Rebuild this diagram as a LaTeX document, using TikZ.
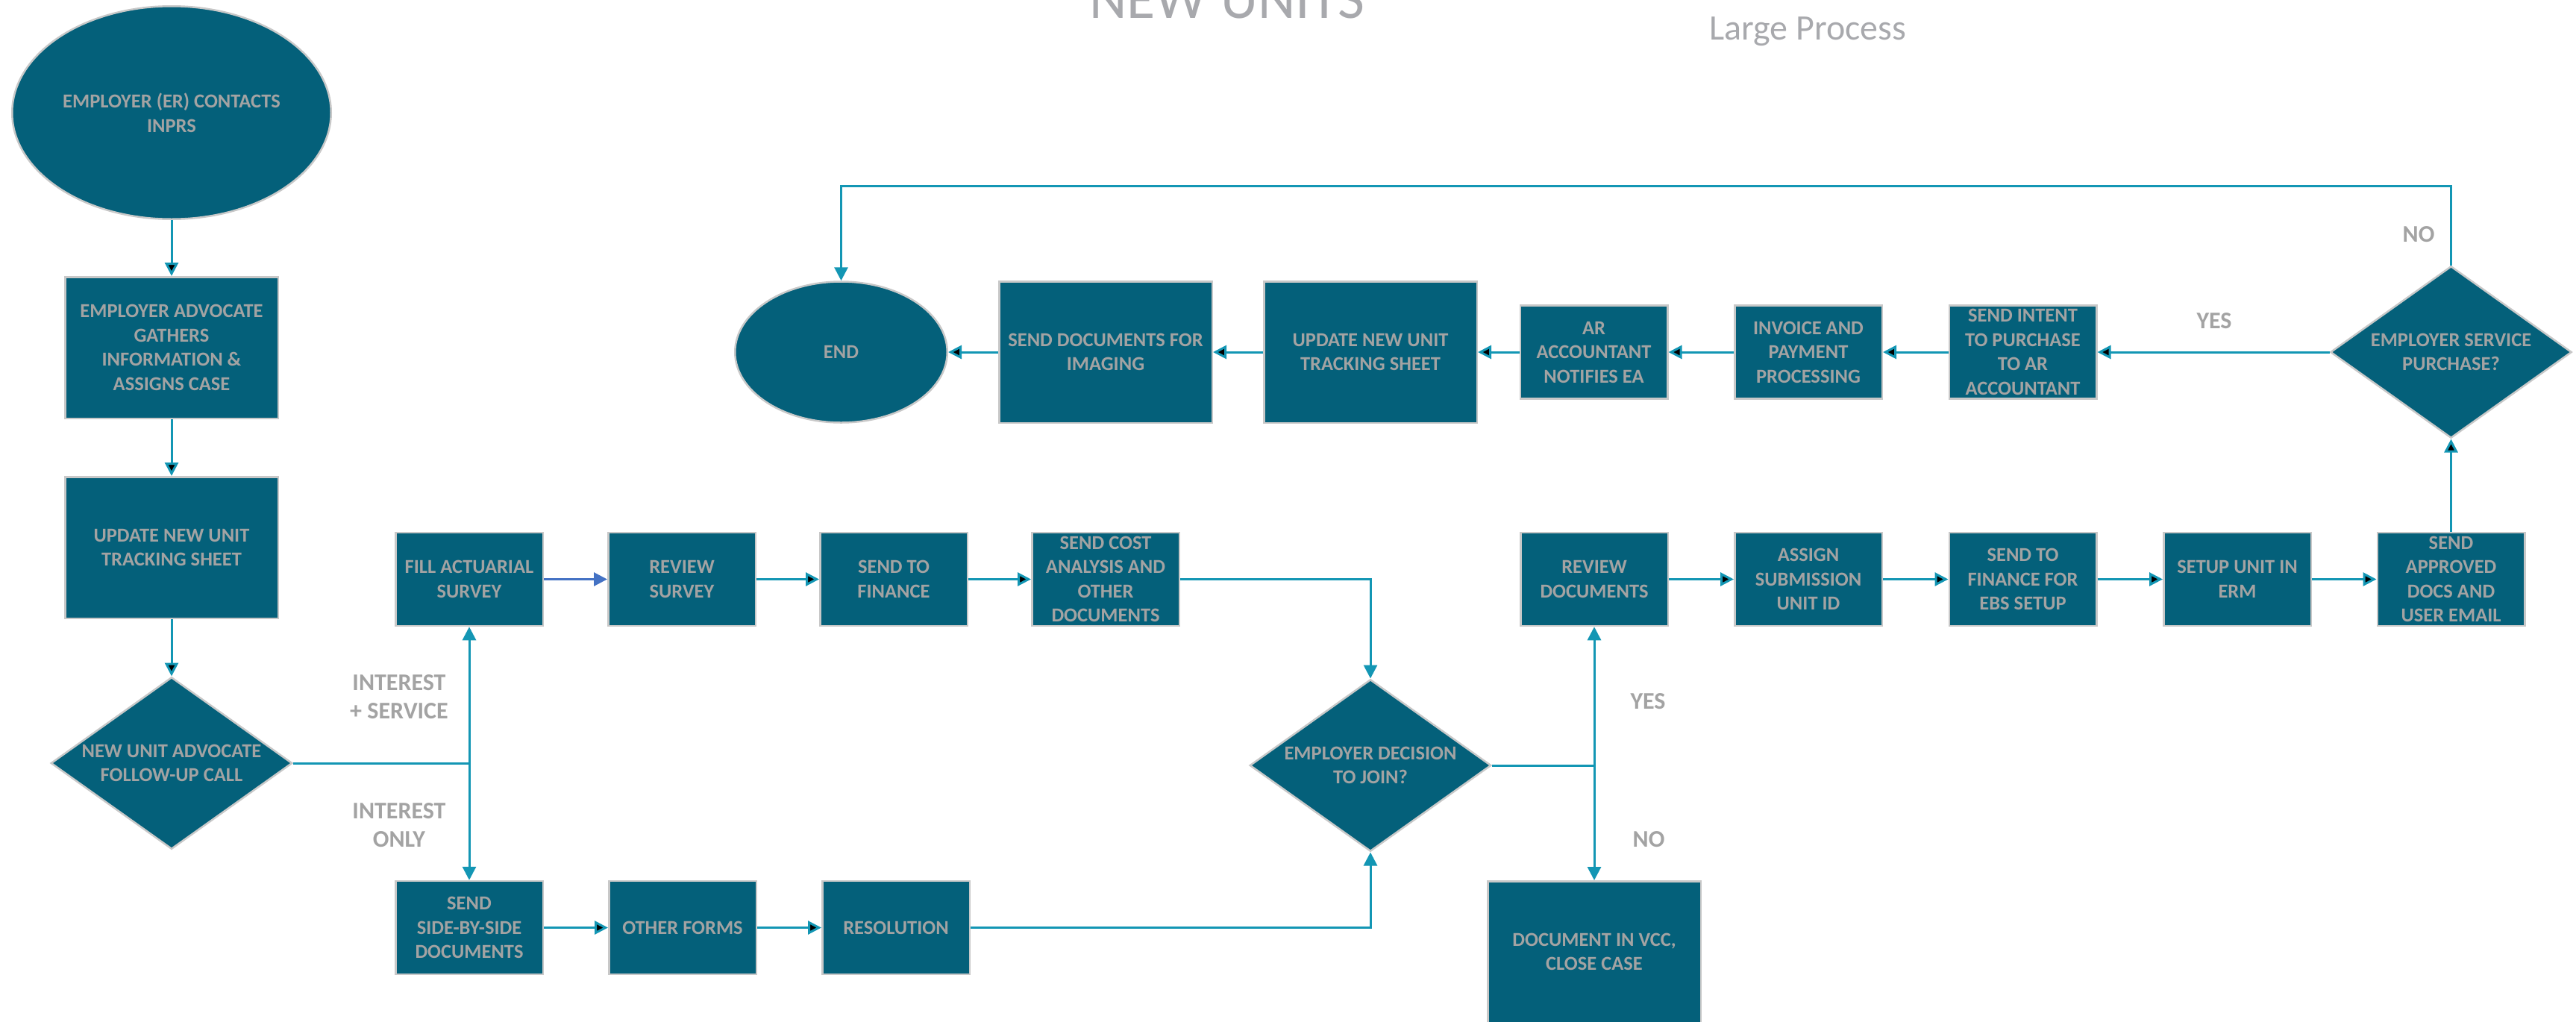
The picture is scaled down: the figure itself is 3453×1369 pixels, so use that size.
\documentclass[tikz,border=0pt]{standalone}
\usepackage{fontspec}
\setmainfont{Carlito}
\usetikzlibrary{shapes.geometric,arrows.meta}
\definecolor{boxfill}{HTML}{04607A}
\definecolor{boxline}{HTML}{C8C8C8}
\definecolor{boxtext}{HTML}{A3A3A3}
\definecolor{flowline}{HTML}{1396B4}
\definecolor{surveyline}{HTML}{4472C4}
\definecolor{headtext}{HTML}{A8A9AD}
\newcommand{\stepfont}{\bfseries\fontsize{26.5pt}{32.5pt}\selectfont}
\newcommand{\answerfont}{\bfseries\fontsize{32pt}{38pt}\selectfont}
\tikzset{
	stepbox/.style={rectangle, draw=boxline, line width=2.5pt, fill=boxfill,
		text=boxtext, font=\stepfont, align=center, inner sep=0pt},
	bigbox/.style={stepbox, minimum width=285.5pt, minimum height=189.5pt},
	smallbox/.style={stepbox, minimum width=197.5pt, minimum height=125pt},
	choice/.style={stepbox, diamond, shape aspect=1.4, minimum width=323.5pt, minimum height=230.5pt},
	terminal/.style={stepbox, ellipse},
	flow/.style={draw=flowline, line width=3pt, -{Triangle[length=18pt,width=18pt]}},
	answer/.style={text=boxtext, font=\answerfont, align=center, inner sep=0pt}
}

\begin{document}
\begin{tikzpicture}[x=1pt,y=-1pt]
	\useasboundingbox (0,0) rectangle (3453,1369);
	% headings
	\node[anchor=base, text=headtext, font=\fontsize{78pt}{90pt}\selectfont] (title) at (1645,24) {NEW UNITS};
	\node[anchor=base, text=headtext, font=\fontsize{48pt}{56pt}\selectfont] (size) at (2423,53) {Large Process};
	
	% intake column
	\node[terminal, minimum width=427.5pt, minimum height=285.5pt] (start) at (230,151) {EMPLOYER (ER) CONTACTS\\INPRS};
	\node[bigbox] (gather) at (230,466) {EMPLOYER ADVOCATE\\GATHERS\\INFORMATION \&\\ASSIGNS CASE};
	\node[bigbox] (track) at (230,734) {UPDATE NEW UNIT\\TRACKING SHEET};
	\node[choice] (followup) at (230,1023) {NEW UNIT ADVOCATE\\FOLLOW-UP CALL};
	
	% interest + service
	\node[smallbox] (actuarial) at (629,776.5) {FILL ACTUARIAL\\SURVEY};
	\node[smallbox] (survey) at (914,776.5) {REVIEW\\SURVEY};
	\node[smallbox] (finance) at (1198,776.5) {SEND TO\\FINANCE};
	\node[smallbox] (cost) at (1482,776.5) {SEND COST\\ANALYSIS AND\\OTHER\\DOCUMENTS};
	
	% interest only
	\node[smallbox] (sidebyside) at (629,1243.5) {SEND\\SIDE-BY-SIDE\\DOCUMENTS};
	\node[smallbox] (forms) at (915,1243.5) {OTHER FORMS};
	\node[smallbox] (resolution) at (1201,1243.5) {RESOLUTION};
	
	% joining
	\node[choice] (join) at (1837,1026) {EMPLOYER DECISION\\TO JOIN?};
	\node[bigbox] (vcc) at (2137,1276) {DOCUMENT IN VCC,\\CLOSE CASE};
	\node[smallbox] (reviewdocs) at (2137,776.5) {REVIEW\\DOCUMENTS};
	\node[smallbox] (assign) at (2424,776.5) {ASSIGN\\SUBMISSION\\UNIT ID};
	\node[smallbox] (ebs) at (2711.5,776.5) {SEND TO\\FINANCE FOR\\EBS SETUP};
	\node[smallbox] (erm) at (2999,776.5) {SETUP UNIT IN\\ERM};
	\node[smallbox] (approved) at (3285.5,776.5) {SEND\\APPROVED\\DOCS AND\\USER EMAIL};
	
	% service purchase
	\node[choice] (purchase) at (3285.5,472) {EMPLOYER SERVICE\\PURCHASE?};
	\node[smallbox] (intent) at (2711.5,472) {SEND INTENT\\TO PURCHASE\\TO AR\\ACCOUNTANT};
	\node[smallbox] (invoice) at (2424,472) {INVOICE AND\\PAYMENT\\PROCESSING};
	\node[smallbox] (notify) at (2136.5,472) {AR\\ACCOUNTANT\\NOTIFIES EA};
	\node[bigbox] (track2) at (1837,472) {UPDATE NEW UNIT\\TRACKING SHEET};
	\node[bigbox] (imaging) at (1482,472) {SEND DOCUMENTS FOR\\IMAGING};
	\node[terminal, minimum width=284.5pt, minimum height=189pt] (finish) at (1127.5,472) {END};
	\coordinate (loop) at (1127.5,249.5);
	
	% answers
	\node[answer] (both) at (535,934) {INTEREST\\+ SERVICE};
	\node[answer] (only) at (535,1106) {INTEREST\\ONLY};
	\node[answer] (joinyes) at (2209,940) {YES};
	\node[answer] (joinno) at (2210,1125) {NO};
	\node[answer] (buyyes) at (2968,430) {YES};
	\node[answer] (buyno) at (3242,314) {NO};
	
	\path[flow]
	(start) edge (gather)
	(gather) edge (track)
	(track) edge (followup)
	(survey) edge (finance)
	(finance) edge (cost)
	(sidebyside) edge (forms)
	(forms) edge (resolution)
	(reviewdocs) edge (assign)
	(assign) edge (ebs)
	(ebs) edge (erm)
	(erm) edge (approved)
	(approved) edge (purchase)
	(purchase) edge (intent)
	(intent) edge (invoice)
	(invoice) edge (notify)
	(notify) edge (track2)
	(track2) edge (imaging)
	(imaging) edge (finish);
	\draw[flow, draw=surveyline] (actuarial) -- (survey);
	\draw[flow] (followup.east) -| (actuarial.south);
	\draw[flow] (followup.east) -| (sidebyside.north);
	\draw[flow] (cost.east) -| (join.north);
	\draw[flow] (resolution.east) -| (join.south);
	\draw[flow] (join.east) -| (reviewdocs.south);
	\draw[flow] (join.east) -| (vcc.north);
	\draw[flow] (purchase.north) |- (loop) -- (finish.north);
\end{tikzpicture}
\end{document}
